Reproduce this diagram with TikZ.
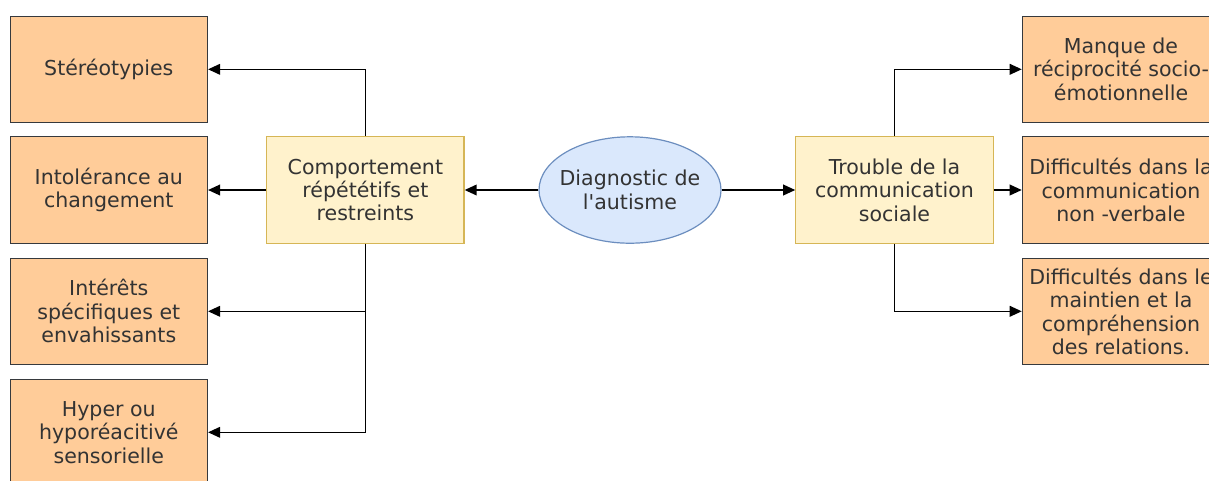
\documentclass[tikz,border=0pt]{standalone}
\usepackage{fontspec}
\setmainfont{DejaVu Sans}
\usetikzlibrary{arrows.meta,shapes.geometric}
\definecolor{orfill}{HTML}{FFCC99}
\definecolor{ordraw}{HTML}{36393D}
\definecolor{yefill}{HTML}{FFF2CC}
\definecolor{yedraw}{HTML}{D6B656}
\definecolor{blfill}{HTML}{DAE8FC}
\definecolor{bldraw}{HTML}{6C8EBF}
\definecolor{txt}{HTML}{333333}
\tikzset{
  x=0.75pt, y=-0.75pt,
  base/.style={align=center, inner sep=0pt, text=txt,
    font=\fontsize{15.4}{17.6}\selectfont},
  leaf/.style={base, rectangle, draw=ordraw, fill=orfill, line width=0.9pt,
    minimum width=148pt, minimum height=79.8pt},
  mid/.style={base, rectangle, draw=yedraw, fill=yefill, line width=0.9pt,
    minimum width=148pt, minimum height=79.8pt},
  root/.style={ellipse, draw=bldraw, fill=blfill, line width=0.9pt, inner sep=0pt,
    minimum width=136.5pt, minimum height=79.8pt},
  conn/.style={draw=black, line width=1.15pt, -{Triangle[length=9pt,width=8pt]}}
}
\begin{document}
\begin{tikzpicture}
\useasboundingbox (0,0) rectangle (1209,480);
\clip (0,0) rectangle (1209,480);
\fill[white] (0,0) rectangle (1209,480);

\node[root] (diag) at (630,190) {};
\node[base] (diagtxt) at (diag.center) {Diagnostic de\\l\textquotesingle autisme};
\node[mid] (comp) at (365.4,190) {Comportement\\répététifs et\\restreints};
\node[mid] (trou) at (894.5,190) {Trouble de la\\communication\\sociale};

\node[leaf] (l1) at (108.8,69.3) {Stéréotypies};
\node[leaf] (l2) at (108.8,190) {Intolérance au\\changement};
\node[leaf] (l3) at (108.8,311.3) {Intérêts\\spécifiques et\\envahissants};
\node[leaf] (l4) at (108.8,432.3) {Hyper ou\\hyporéacitivé\\sensorielle};

\node[leaf] (r1) at (1121,69.3) {Manque de\\réciprocité socio-\\émotionnelle};
\node[leaf] (r2) at (1121,190) {Difficultés dans la\\communication\\non -verbale};
\node[leaf] (r3) at (1121,311.3) {Difficultés dans le\\maintien et la\\compréhension\\des relations.};

\draw[conn] (diag.west) -- (comp.east);
\draw[conn] (diag.east) -- (trou.west);

\draw[conn] (comp.north) |- (l1.east);
\draw[conn] (comp.west) -- (l2.east);
\draw[conn] (comp.south) |- (l3.east);
\draw[conn] (comp.south) |- (l4.east);

\draw[conn] (trou.north) |- (r1.west);
\draw[conn] (trou.east) -- (r2.west);
\draw[conn] (trou.south) |- (r3.west);
\end{tikzpicture}
\end{document}
